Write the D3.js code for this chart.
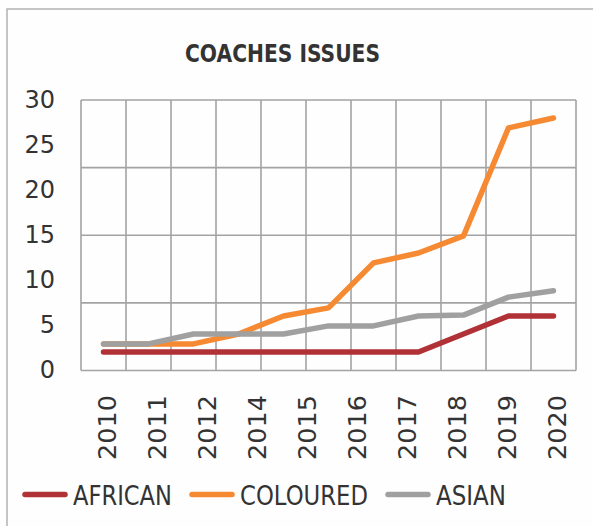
<!DOCTYPE html>
<html>
<head>
<meta charset="utf-8">
<script src="https://cdn.jsdelivr.net/npm/d3@7"></script>
<style>
  html, body { margin: 0; padding: 0; background: #fefefe; }
  svg { display: block; }
</style>
</head>
<body>
<script>
// ---- data ----
const years = [2010, 2011, 2012, 2013, 2014, 2015, 2016, 2017, 2018, 2019, 2020];
const african = [2, 2, 2, 2, 2, 2, 2, 2, 4, 6, 6];
const coloured = [2.9, 2.9, 2.9, 4, 6, 6.9, 11.9, 13, 14.9, 26.9, 28];
const asian = [2.9, 2.9, 4, 4, 4, 4.9, 4.9, 6, 6.1, 8.1, 8.8];
const seriesNames = ["AFRICAN", "COLOURED", "ASIAN"];
const seriesColors = ["#b03237", "#f68a33", "#a0a0a0"];
const yTicks = [0, 5, 10, 15, 20, 25, 30];
const xTickLabels = ["2010", "2011", "2012", "2014", "2015", "2016", "2017", "2018", "2019", "2020"];
const gridRows = 4;
const titleText = "COACHES ISSUES";

const W = 593, H = 526;
const svg = d3.select("body").append("svg").attr("width", W).attr("height", H);

// outer frame (only top/left visible)
svg.append("rect").attr("x", 7).attr("y", 9).attr("width", 800).attr("height", 800)
  .attr("fill", "none").attr("stroke", "#b3b3b3").attr("stroke-width", 1.5);

const plot = { left: 81, right: 576, top: 100, bottom: 370.5 };

const x = d3.scaleBand().domain(years).range([plot.left, plot.right]).padding(0);
const y = d3.scaleLinear().domain([0, 30]).range([370, 100]);
const gridY = d3.scaleLinear().domain([0, gridRows]).range([plot.bottom, plot.top]);
const xLab = d3.scalePoint().domain(xTickLabels).range([106.5, 556.5]);

// grid
const grid = svg.append("g").attr("stroke", "#a3a3a3").attr("stroke-width", 1.6).attr("fill", "none");
const vx = years.map(d => x(d)).concat([plot.right]);
grid.selectAll("line.v").data(vx).join("line").attr("class", "v")
  .attr("x1", d => d).attr("x2", d => d).attr("y1", plot.top).attr("y2", plot.bottom);
grid.selectAll("line.h").data(d3.range(gridRows + 1)).join("line").attr("class", "h")
  .attr("x1", plot.left).attr("x2", plot.right).attr("y1", d => gridY(d)).attr("y2", d => gridY(d));

// y axis labels
const yAxis = d3.axisLeft(y).tickValues(yTicks).tickSize(0).tickPadding(0);
const yg = svg.append("g").attr("transform", "translate(55,0)").call(yAxis);
yg.select(".domain").remove();
yg.selectAll("text").attr("font-family", "DejaVu Sans, sans-serif").attr("font-size", 24)
  .attr("fill", "#333333");

// x axis labels
const xAxis = d3.axisBottom(xLab).tickSize(0).tickPadding(0);
const xg = svg.append("g").attr("transform", "translate(0,395)").call(xAxis);
xg.select(".domain").remove();
xg.selectAll("text")
  .attr("font-family", "DejaVu Sans, sans-serif").attr("font-size", 25.5).attr("fill", "#333333")
  .attr("text-anchor", "end").attr("transform", "rotate(-90)")
  .attr("x", 0).attr("y", 0).attr("dy", "0.36em").attr("dx", 0);

// lines
const seriesData = [african, coloured, asian];
const line = d3.line().x((d, i) => x(years[i]) + x.bandwidth() / 2).y(d => y(d));
svg.append("g").selectAll("path").data(seriesData).join("path")
  .attr("d", line).attr("fill", "none")
  .attr("stroke", (d, i) => seriesColors[i]).attr("stroke-width", 5.5)
  .attr("stroke-linecap", "round").attr("stroke-linejoin", "round");

// title
svg.append("text").attr("x", 282.5).attr("y", 62).attr("text-anchor", "middle")
  .attr("font-family", "DejaVu Sans, sans-serif").attr("font-weight", "bold")
  .attr("font-size", 24.5).attr("fill", "#333333")
  .attr("textLength", 195).attr("lengthAdjust", "spacingAndGlyphs")
  .text(titleText);

// legend
const legendX = [25, 192, 388];
const legendW = [99, 128, 70];
const lg = svg.append("g");
seriesNames.forEach((name, i) => {
  lg.append("line").attr("x1", legendX[i]).attr("x2", legendX[i] + 40)
    .attr("y1", 494.5).attr("y2", 494.5)
    .attr("stroke", seriesColors[i]).attr("stroke-width", 5.5).attr("stroke-linecap", "round");
  lg.append("text").attr("x", legendX[i] + 48).attr("y", 505)
    .attr("font-family", "DejaVu Sans, sans-serif").attr("font-size", 27)
    .attr("fill", "#333333")
    .attr("textLength", legendW[i]).attr("lengthAdjust", "spacingAndGlyphs")
    .text(name);
});
</script>
</body>
</html>
